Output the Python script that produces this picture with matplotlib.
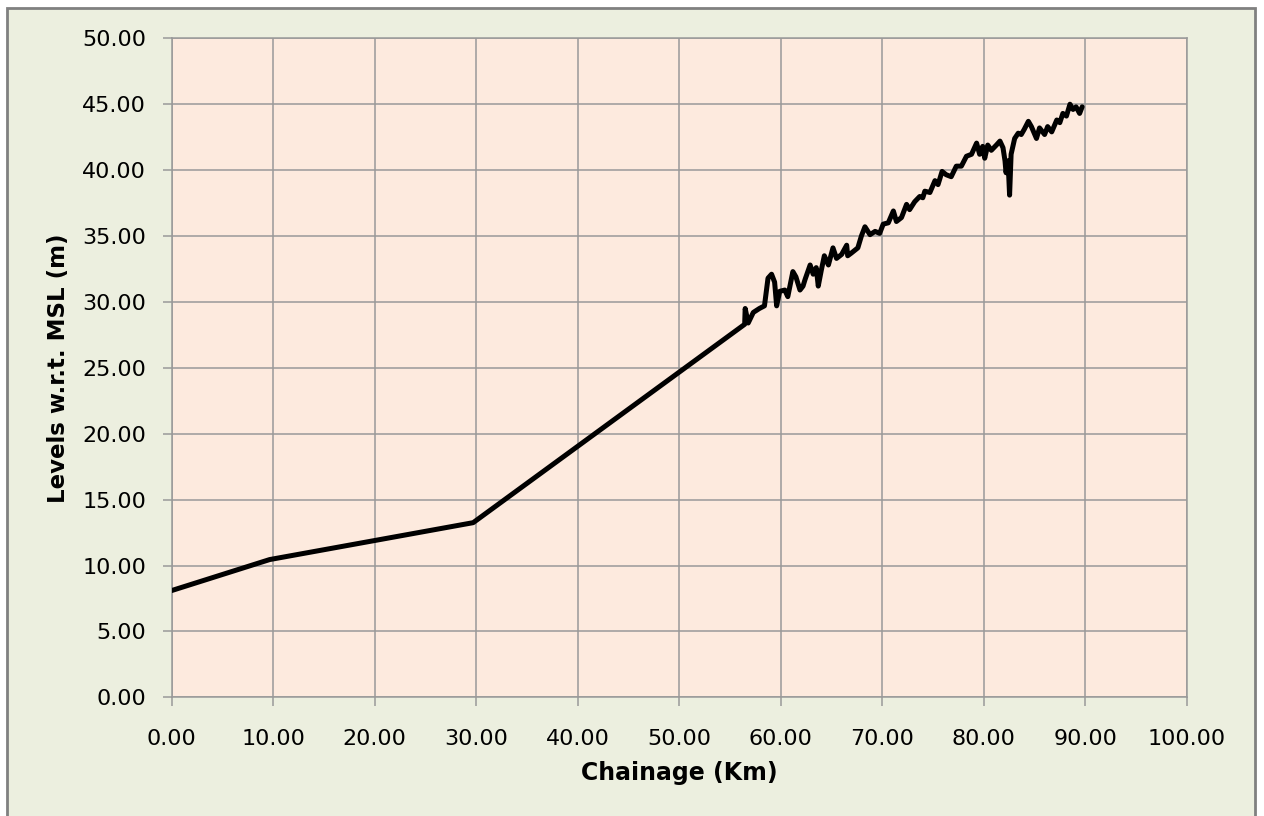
import matplotlib
matplotlib.use("Agg")
import matplotlib.pyplot as plt
from matplotlib.patches import Rectangle
from matplotlib.ticker import FuncFormatter, MultipleLocator

chainage_km = [0.0, 9.65, 29.7, 56.45, 56.5, 56.8, 57.3, 57.9, 58.4, 58.75, 59.1, 59.4, 59.6,
               59.9, 60.4, 60.7, 61.2, 61.5, 61.9, 62.2, 62.4, 62.9, 63.2, 63.5, 63.7,
               64.0, 64.3, 64.7, 65.15, 65.5, 66.0, 66.5, 66.6, 66.95, 67.6, 67.95, 68.3,
               68.8, 69.3, 69.75, 70.1, 70.6, 71.1, 71.4, 71.9, 72.4, 72.7, 73.2, 73.7,
               74.0, 74.2, 74.7, 75.2, 75.5, 75.9, 76.3, 76.8, 77.3, 77.8, 78.3, 78.8,
               79.3, 79.6, 79.9, 80.1,
               80.4, 80.75, 81.25, 81.6, 81.9, 82.1, 82.2, 82.4, 82.55, 82.7, 83.05, 83.4,
               83.7, 84.0, 84.4, 84.7, 85.2, 85.5, 86.0, 86.3, 86.7, 87.2, 87.5, 87.8,
               88.15, 88.5, 88.8, 89.1, 89.45, 89.7]
level_m = [8.1, 10.45, 13.25, 28.3, 29.5, 28.4, 29.2, 29.5, 29.7, 31.8, 32.1, 31.5, 29.7,
           30.8, 30.9, 30.4, 32.3, 31.9, 30.9, 31.2, 31.7, 32.8, 32.1, 32.6, 31.2,
           32.4, 33.5, 32.8, 34.1, 33.3, 33.6, 34.3, 33.5, 33.7, 34.1, 35.0, 35.7,
           35.1, 35.35, 35.2, 35.9, 36.0, 36.9, 36.1, 36.4, 37.4, 37.0, 37.6, 38.0,
           37.9, 38.4, 38.3, 39.2, 38.9, 39.9, 39.65, 39.5, 40.3, 40.3, 41.05, 41.2,
           42.05, 41.2, 41.8, 40.9,
           41.9, 41.5, 41.9, 42.2, 41.7, 40.7, 39.8, 40.7, 38.1, 41.2, 42.4, 42.8,
           42.7, 43.1, 43.7, 43.3, 42.4, 43.2, 42.7, 43.3, 42.9, 43.8, 43.6, 44.3,
           44.1, 45.0, 44.6, 44.8, 44.3, 44.8]

x_label = "Chainage (Km)"
y_label = "Levels w.r.t. MSL (m)"

W, H = 1264, 816
fig = plt.figure(figsize=(W / 100, H / 100), dpi=100, facecolor="white")
# outer chart area with border
fig.patches.append(Rectangle((7 / W, -0.02), (1255 - 7) / W, 1 - 8 / H + 0.02,
                             transform=fig.transFigure, facecolor="#ECEFDF",
                             edgecolor="#808080", linewidth=2, zorder=-10))

ax = fig.add_axes([171.7 / W, (H - 697.3) / H, (1186.7 - 171.7) / W, (697.3 - 38.3) / H])
ax.set_zorder(5)
ax.set_facecolor("#FDEADE")
ax.plot(chainage_km, level_m, color="black", linewidth=3.6, solid_joinstyle="round",
        solid_capstyle="round", zorder=3)

ax.set_xlim(0, 100)
ax.set_ylim(0, 50)
ax.xaxis.set_major_locator(MultipleLocator(10))
ax.yaxis.set_major_locator(MultipleLocator(5))
fmt = FuncFormatter(lambda v, p: f"{v:.2f}")
ax.xaxis.set_major_formatter(fmt)
ax.yaxis.set_major_formatter(fmt)
ax.grid(True, color="#999999", linewidth=1.1, zorder=1)
ax.set_axisbelow(True)
for s in ax.spines.values():
    s.set_color("#999999")
    s.set_linewidth(1.1)
ax.tick_params(axis="both", direction="out", length=6.5, width=1.1, color="#999999",
               labelsize=16, labelcolor="#000000")
ax.tick_params(axis="x", pad=16)
ax.tick_params(axis="y", pad=12)

ax.set_xlabel(x_label, fontsize=17, fontweight="bold", labelpad=9, color="#000000")
ax.set_ylabel(y_label, fontsize=16.5, fontweight="bold", labelpad=8.5, color="#000000")

fig.savefig("out.png", dpi=100, facecolor=fig.get_facecolor())
